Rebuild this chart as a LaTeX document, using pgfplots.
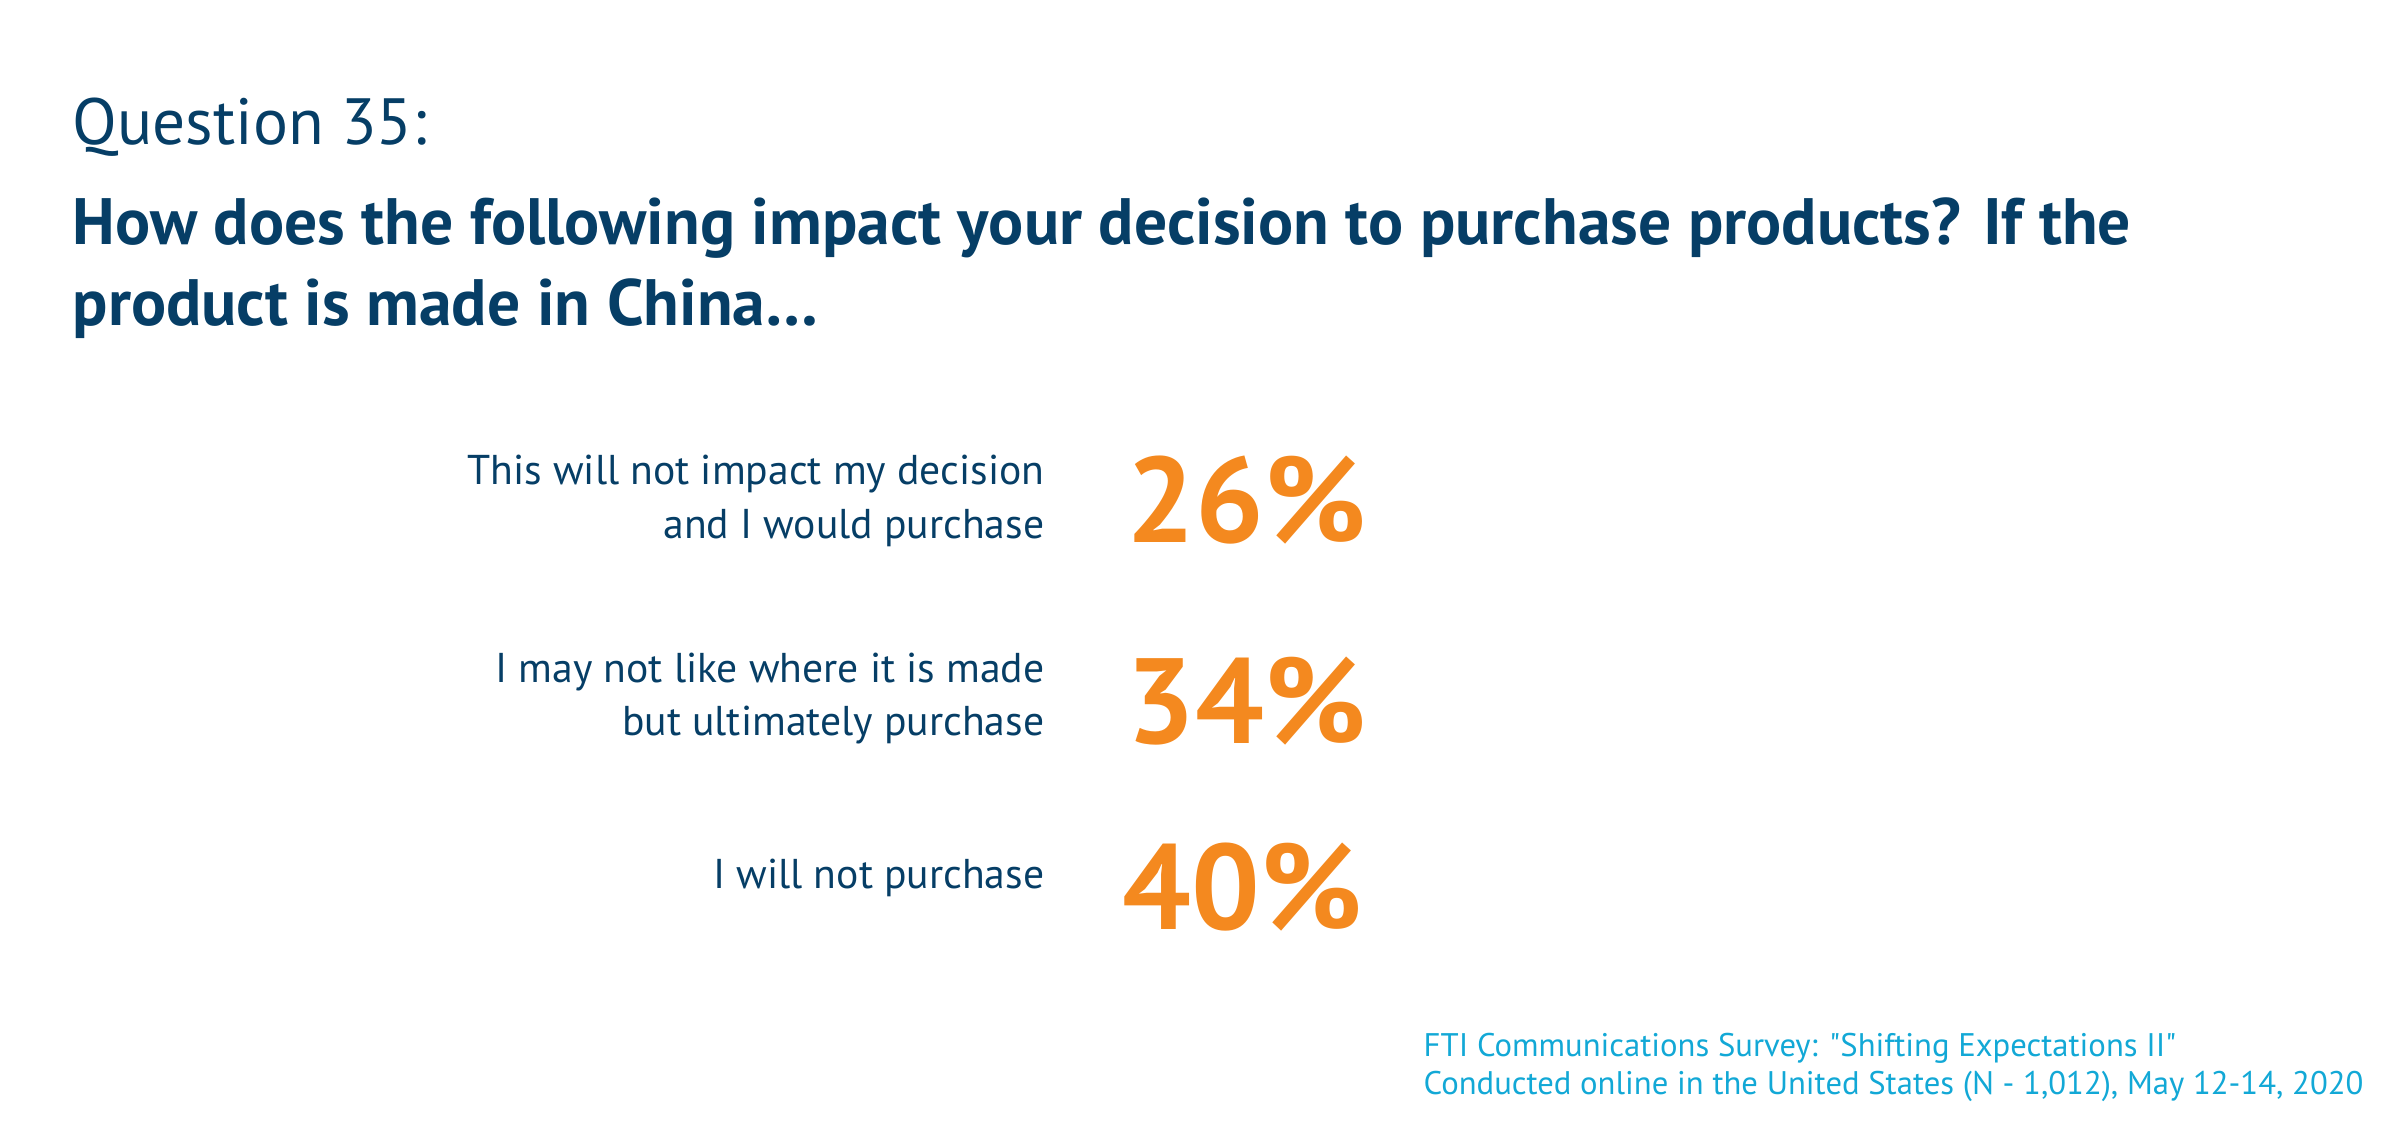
\documentclass[border=0pt]{standalone}
\usepackage{pgfplots}
\pgfplotsset{compat=1.18}
\usepackage{fontspec}
\setmainfont{PT Sans}
\newfontfamily\plainfont{PT Sans}
\definecolor{navy}{HTML}{063E66}
\definecolor{orng}{HTML}{F4891F}
\definecolor{cyan2}{HTML}{12A8D6}
\begin{document}
\begin{tikzpicture}
\begin{axis}[
  width=24cm, height=11.43cm, scale only axis,
  xmin=0, xmax=2400, ymin=0, ymax=1143,
  axis lines=none, clip=false,
  /pgf/number format/assume math mode=true,
]
% title
\node[anchor=base west, inner sep=0, text=navy, font=\fontsize{18.6}{22}\selectfont] at (axis cs:72,998) {Question 35:};
\node[anchor=base west, inner sep=0, text=navy, font=\fontsize{18.65}{23.2}\selectfont\bfseries, align=left] at (axis cs:72,817) {How does the following impact your decision to purchase products? If the\\product is made in China\ldots};
% category labels
\node[anchor=base east, inner sep=0, text=navy, font=\fontsize{11.85}{15.6}\selectfont, align=right] at (axis cs:1045,604) {This will not impact my decision\\and I would purchase};
\node[anchor=base east, inner sep=0, text=navy, font=\fontsize{11.85}{15.2}\selectfont, align=right] at (axis cs:1045,407) {I may not like where it is made\\but ultimately purchase};
\node[anchor=base east, inner sep=0, text=navy, font=\fontsize{11.85}{15.2}\selectfont] at (axis cs:1045,255) {I will not purchase};
% values
\addplot[draw=none, mark=none, point meta=explicit,
  nodes near coords={\pgfmathprintnumber[fixed,precision=0]{\pgfplotspointmeta}\%},
  every node near coord/.append style={anchor=base west, inner sep=0, text=orng, font=\fontsize{34.5}{40}\selectfont\bfseries}]
  coordinates {(1126,600)[26] (1126,399)[34] (1122,214)[40]};
% footer
\node[anchor=base west, inner sep=0, text=cyan2, font=\plainfont\fontsize{9.3}{10.8}\selectfont, align=left] at (axis cs:1423,49) {FTI Communications Survey: "Shifting Expectations II"\\Conducted online in the United States (N - 1,012), May 12-14, 2020};
\end{axis}
\path (current axis.south west) rectangle (current axis.north east);
\end{tikzpicture}
\end{document}
